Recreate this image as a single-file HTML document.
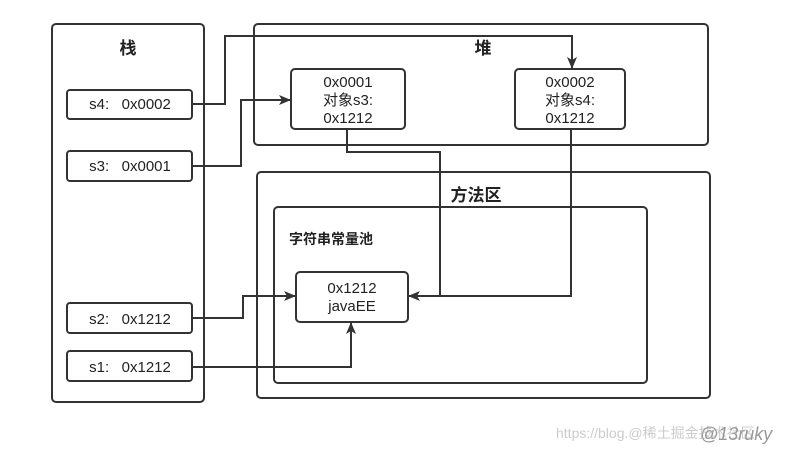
<!DOCTYPE html>
<html><head><meta charset="utf-8"><style>
body{margin:0;background:#fff;width:790px;height:449px;overflow:hidden}
svg text{font-family:"Liberation Sans","Noto Sans CJK SC",sans-serif;fill:#222;white-space:pre}
</style></head><body>
<svg width="790" height="449" viewBox="0 0 790 449" xmlns="http://www.w3.org/2000/svg">
<defs><marker id="a" markerWidth="12" markerHeight="10" refX="11" refY="5" orient="auto" markerUnits="userSpaceOnUse"><path d="M0,0 L12,5 L0,10 L3,5 Z" fill="#333"/></marker></defs>
<g fill="none" stroke="#333" stroke-width="2">
<rect x="52" y="24" width="152" height="378" rx="4"/>
<rect x="254" y="24" width="454" height="121" rx="4"/>
<rect x="257" y="172" width="453" height="226" rx="4"/>
<rect x="274" y="207" width="373" height="176" rx="4"/>
<rect x="67" y="90" width="125" height="29" rx="3"/>
<rect x="67" y="151" width="125" height="30" rx="3"/>
<rect x="67" y="303" width="125" height="30" rx="3"/>
<rect x="67" y="351" width="125" height="30" rx="3"/>
<rect x="291" y="69" width="114" height="60" rx="4"/>
<rect x="515" y="69" width="110" height="60" rx="4"/>
<rect x="296" y="272" width="112" height="50" rx="4"/>
<path d="M192,104 H225 V36 H572 V68" marker-end="url(#a)"/>
<path d="M192,166 H241 V100 H290" marker-end="url(#a)"/>
<path d="M347,129 V152 H440 V296"/>
<path d="M571,129 V296 H409" marker-end="url(#a)"/>
<path d="M192,318 H243 V296 H295" marker-end="url(#a)"/>
<path d="M192,367 H351 V323" marker-end="url(#a)"/>
</g>
<g font-size="15" text-anchor="middle">
<text x="128" y="54" font-weight="bold" font-size="17">栈</text>
<text x="483" y="54" font-weight="bold" font-size="17">堆</text>
<text x="476" y="201" font-weight="bold" font-size="17">方法区</text>
<text x="331" y="244" font-weight="bold" font-size="14">字符串常量池</text>
<text x="130" y="109">s4:   0x0002</text>
<text x="130" y="171">s3:   0x0001</text>
<text x="130" y="324">s2:   0x1212</text>
<text x="130" y="372">s1:   0x1212</text>
<text x="348" y="87">0x0001</text><text x="348" y="105">对象s3:</text><text x="348" y="123">0x1212</text>
<text x="570" y="87">0x0002</text><text x="570" y="105">对象s4:</text><text x="570" y="123">0x1212</text>
<text x="352" y="293">0x1212</text><text x="352" y="311">javaEE</text>
</g>
<text x="556" y="438" font-size="14" style="fill:#ccc">https://blog.@稀土掘金技术社区</text>
<text x="700" y="440" font-size="18" font-style="italic" style="fill:#999">@13ruky</text>
</svg>
</body></html>
